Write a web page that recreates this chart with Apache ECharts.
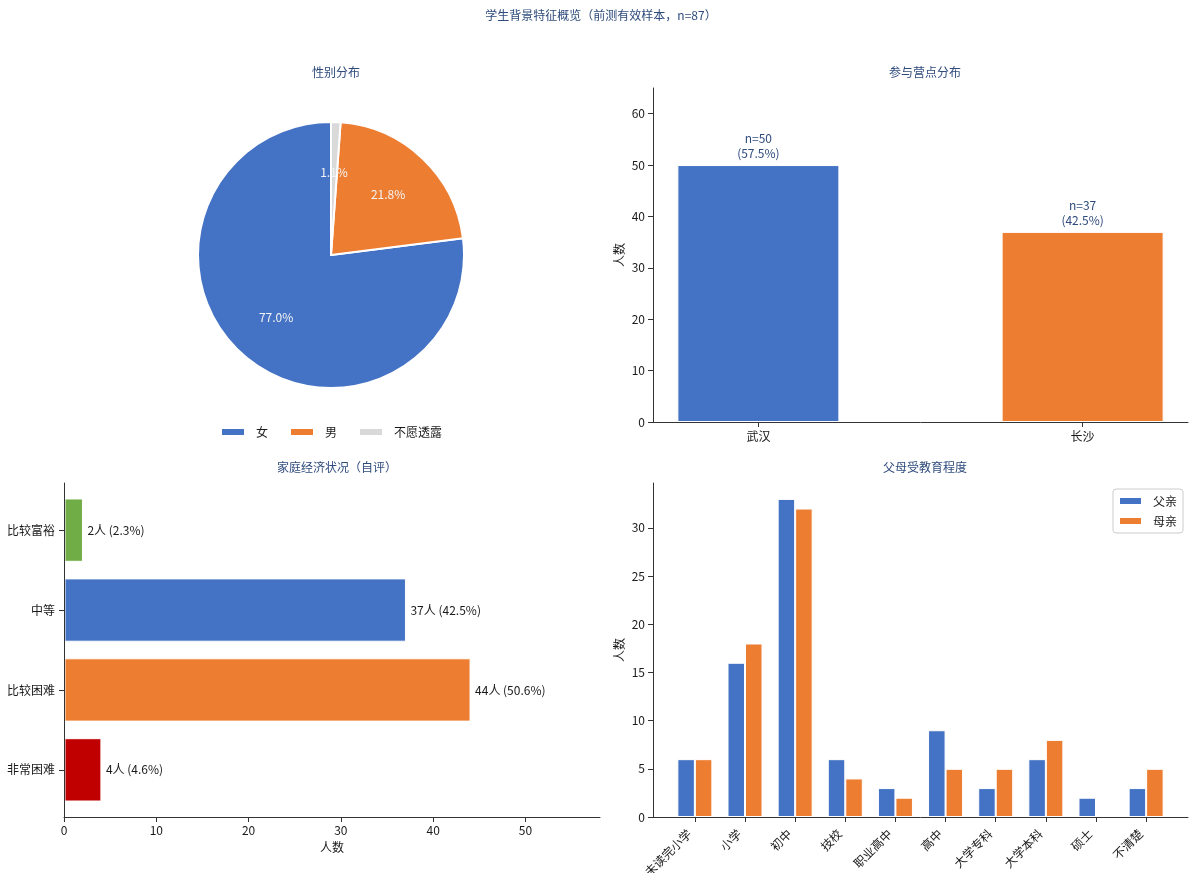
<!DOCTYPE html>
<html><head><meta charset="utf-8">
<script src="https://cdn.jsdelivr.net/npm/echarts@6/dist/echarts.min.js"></script>
<style>html,body{margin:0;padding:0;background:#fff}#c{width:1192px;height:873px}</style>
</head><body><div id="c"></div>
<script>
const TOTAL = 87;
const mainTitle = '学生背景特征概览（前测有效样本，n=87）';
const genderNames = ['女', '男', '不愿透露'];
const genderValues = [67, 19, 1];
const siteNames = ['武汉', '长沙'];
const siteValues = [50, 37];
const siteTicks = [0, 10, 20, 30, 40, 50, 60];
const econNames = ['非常困难', '比较困难', '中等', '比较富裕'];
const econValues = [4, 44, 37, 2];
const econTicks = [0, 10, 20, 30, 40, 50];
const eduNames = ['未读完小学', '小学', '初中', '技校', '职业高中', '高中', '大学专科', '大学本科', '硕士', '不清楚'];
const fatherValues = [6, 16, 33, 6, 3, 9, 3, 6, 2, 3];
const motherValues = [6, 18, 32, 4, 2, 5, 5, 8, 0, 5];
const eduTicks = [0, 5, 10, 15, 20, 25, 30];

const BLUE = '#4472C4', ORANGE = '#ED7D31', GREY = '#D9D9D9', GREEN = '#70AD47', RED = '#C00000';
const TITLE_C = '#2f4b7c', TXT = '#1a1a1a', FONT = 'Noto Sans CJK SC';
const genderColors = [BLUE, ORANGE, GREY];
const siteColors = [BLUE, ORANGE];
const econColors = [RED, ORANGE, BLUE, GREEN];
const pct = v => (v / TOTAL * 100).toFixed(1);

const axLine = { show: true, onZero: false, lineStyle: { color: '#333', width: 1 } };
const axTick = vals => ({ show: true, length: 5, lineStyle: { color: '#333' }, customValues: vals });
const axLabel = (vals, extra) => Object.assign({ color: TXT, fontSize: 12, fontFamily: FONT, customValues: vals }, extra || {});
const idx = n => n.map((_, i) => i);
const titleStyle = { color: TITLE_C, fontSize: 12, fontWeight: 'normal' };

const chart = echarts.init(document.getElementById('c'));
chart.setOption({
  animation: false,
  textStyle: { fontFamily: FONT },
  title: [
    { text: mainTitle, left: 596, top: 4, textAlign: 'center', textStyle: titleStyle },
    { text: '性别分布', left: 331, top: 61, textAlign: 'center', textStyle: titleStyle },
    { text: '参与营点分布', left: 920, top: 61, textAlign: 'center', textStyle: titleStyle },
    { text: '家庭经济状况（自评）', left: 332, top: 456, textAlign: 'center', textStyle: titleStyle },
    { text: '父母受教育程度', left: 920, top: 456, textAlign: 'center', textStyle: titleStyle }
  ],
  legend: [
    {
      data: genderNames.map((n, i) => ({ name: n, itemStyle: { color: genderColors[i] } })),
      left: 215, top: 421, icon: 'rect', itemWidth: 24, itemHeight: 8, itemGap: 21,
      textStyle: { fontSize: 12, color: TXT, padding: [0, 0, 0, 6] }
    },
    {
      data: [{ name: '父亲', itemStyle: { color: BLUE } }, { name: '母亲', itemStyle: { color: ORANGE } }],
      orient: 'vertical', right: 9, top: 489, icon: 'rect', itemWidth: 23, itemHeight: 8, itemGap: 8,
      padding: [6, 6, 6, 5], borderColor: '#ccc', borderWidth: 1, borderRadius: 3,
      textStyle: { fontSize: 12, color: TXT, padding: [0, 0, 0, 6] }
    }
  ],
  grid: [
    { left: 653, top: 88, width: 535, height: 334, outerBoundsMode: 'none', containLabel: false },
    { left: 64, top: 483, width: 536, height: 334, outerBoundsMode: 'none', containLabel: false },
    { left: 653, top: 483, width: 535, height: 334, outerBoundsMode: 'none', containLabel: false }
  ],
  xAxis: [
    {
      gridIndex: 0, type: 'value', min: -0.325, max: 1.325, z: 5,
      axisLine: axLine, axisTick: axTick(idx(siteNames)), splitLine: { show: false },
      axisLabel: axLabel(idx(siteNames), { formatter: v => siteNames[Math.round(v)] || '', margin: 8 })
    },
    {
      gridIndex: 1, type: 'value', min: 0, max: 58.08, z: 5,
      axisLine: axLine, axisTick: axTick(econTicks), splitLine: { show: false },
      axisLabel: axLabel(econTicks, { margin: 7 }),
      name: '人数', nameLocation: 'middle', nameGap: 24, nameTextStyle: { color: TXT, fontSize: 12 }
    },
    {
      gridIndex: 2, type: 'value', min: -0.835, max: 9.835, z: 5,
      axisLine: axLine, axisTick: axTick(idx(eduNames)), splitLine: { show: false },
      axisLabel: axLabel(idx(eduNames), { formatter: v => eduNames[Math.round(v)] || '', rotate: 45, margin: 9, padding: [0, 8, 0, 0] })
    }
  ],
  yAxis: [
    {
      gridIndex: 0, type: 'value', min: 0, max: 65, z: 5,
      axisLine: axLine, axisTick: axTick(siteTicks), splitLine: { show: false },
      axisLabel: axLabel(siteTicks, { margin: 8 }),
      name: '人数', nameLocation: 'middle', nameGap: 28, nameTextStyle: { color: TXT, fontSize: 12 }
    },
    {
      gridIndex: 1, type: 'value', min: -0.59, max: 3.59, z: 5,
      axisLine: axLine, axisTick: axTick(idx(econNames)), splitLine: { show: false },
      axisLabel: axLabel(idx(econNames), { formatter: v => econNames[Math.round(v)] || '', margin: 9 })
    },
    {
      gridIndex: 2, type: 'value', min: 0, max: 34.65, z: 5,
      axisLine: axLine, axisTick: axTick(eduTicks), splitLine: { show: false },
      axisLabel: axLabel(eduTicks, { margin: 8 }),
      name: '人数', nameLocation: 'middle', nameGap: 28, nameTextStyle: { color: TXT, fontSize: 12 }
    }
  ],
  series: [
    {
      type: 'pie', center: [331, 255], radius: 133, startAngle: 90, clockwise: false, silent: true,
      data: genderNames.map((n, i) => ({ name: n, value: genderValues[i], itemStyle: { color: genderColors[i] } })),
      label: { show: false }, labelLine: { show: false },
      itemStyle: { borderColor: '#fff', borderWidth: 2 }
    },
    {
      type: 'pie', center: [331, 255], radius: [0, 160], startAngle: 90, clockwise: false, silent: true,
      data: genderNames.map((n, i) => ({ name: n, value: genderValues[i], itemStyle: { color: 'rgba(0,0,0,0)' } })),
      label: { show: true, position: 'inside', formatter: p => pct(p.value) + '%', color: '#f4f4f4', fontSize: 12 },
      labelLine: { show: false }
    },
    {
      type: 'bar', xAxisIndex: 0, yAxisIndex: 0, barWidth: 162,
      data: siteValues.map((v, i) => ({ value: [i, v], itemStyle: { color: siteColors[i] } })),
      itemStyle: { borderColor: '#fff', borderWidth: 1 },
      label: {
        show: true, position: 'top', distance: 4, color: TITLE_C, fontSize: 12, lineHeight: 15, align: 'center',
        formatter: p => 'n=' + p.value[1] + '\n(' + pct(p.value[1]) + '%)'
      }
    },
    {
      type: 'custom', xAxisIndex: 1, yAxisIndex: 1,
      data: econValues.map((v, i) => [v, i]),
      renderItem: (params, api) => {
        const v = api.value(0), k = api.value(1);
        const s = api.coord([0, k]), e = api.coord([v, k]);
        const h = api.size([0, 0.78])[1];
        return {
          type: 'group', children: [
            { type: 'rect', shape: { x: s[0] + 1, y: s[1] - h / 2, width: e[0] - s[0] - 1, height: h },
              style: { fill: econColors[k], stroke: '#fff', lineWidth: 1 } },
            { type: 'text', x: e[0] + 5, y: e[1],
              style: { text: v + '人 (' + pct(v) + '%)', fill: TXT, fontSize: 12, fontFamily: FONT, verticalAlign: 'middle', align: 'left' } }
          ]
        };
      }
    },
    {
      name: '父亲', type: 'bar', xAxisIndex: 2, yAxisIndex: 2, barWidth: 17.5, barGap: '0%',
      data: fatherValues.map((v, i) => [i, v]),
      itemStyle: { color: BLUE, borderColor: '#fff', borderWidth: 1 }
    },
    {
      name: '母亲', type: 'bar', xAxisIndex: 2, yAxisIndex: 2, barWidth: 17.5, barGap: '0%',
      data: motherValues.map((v, i) => [i, v]),
      itemStyle: { color: ORANGE, borderColor: '#fff', borderWidth: 1 }
    }
  ]
});
</script>
</body></html>
